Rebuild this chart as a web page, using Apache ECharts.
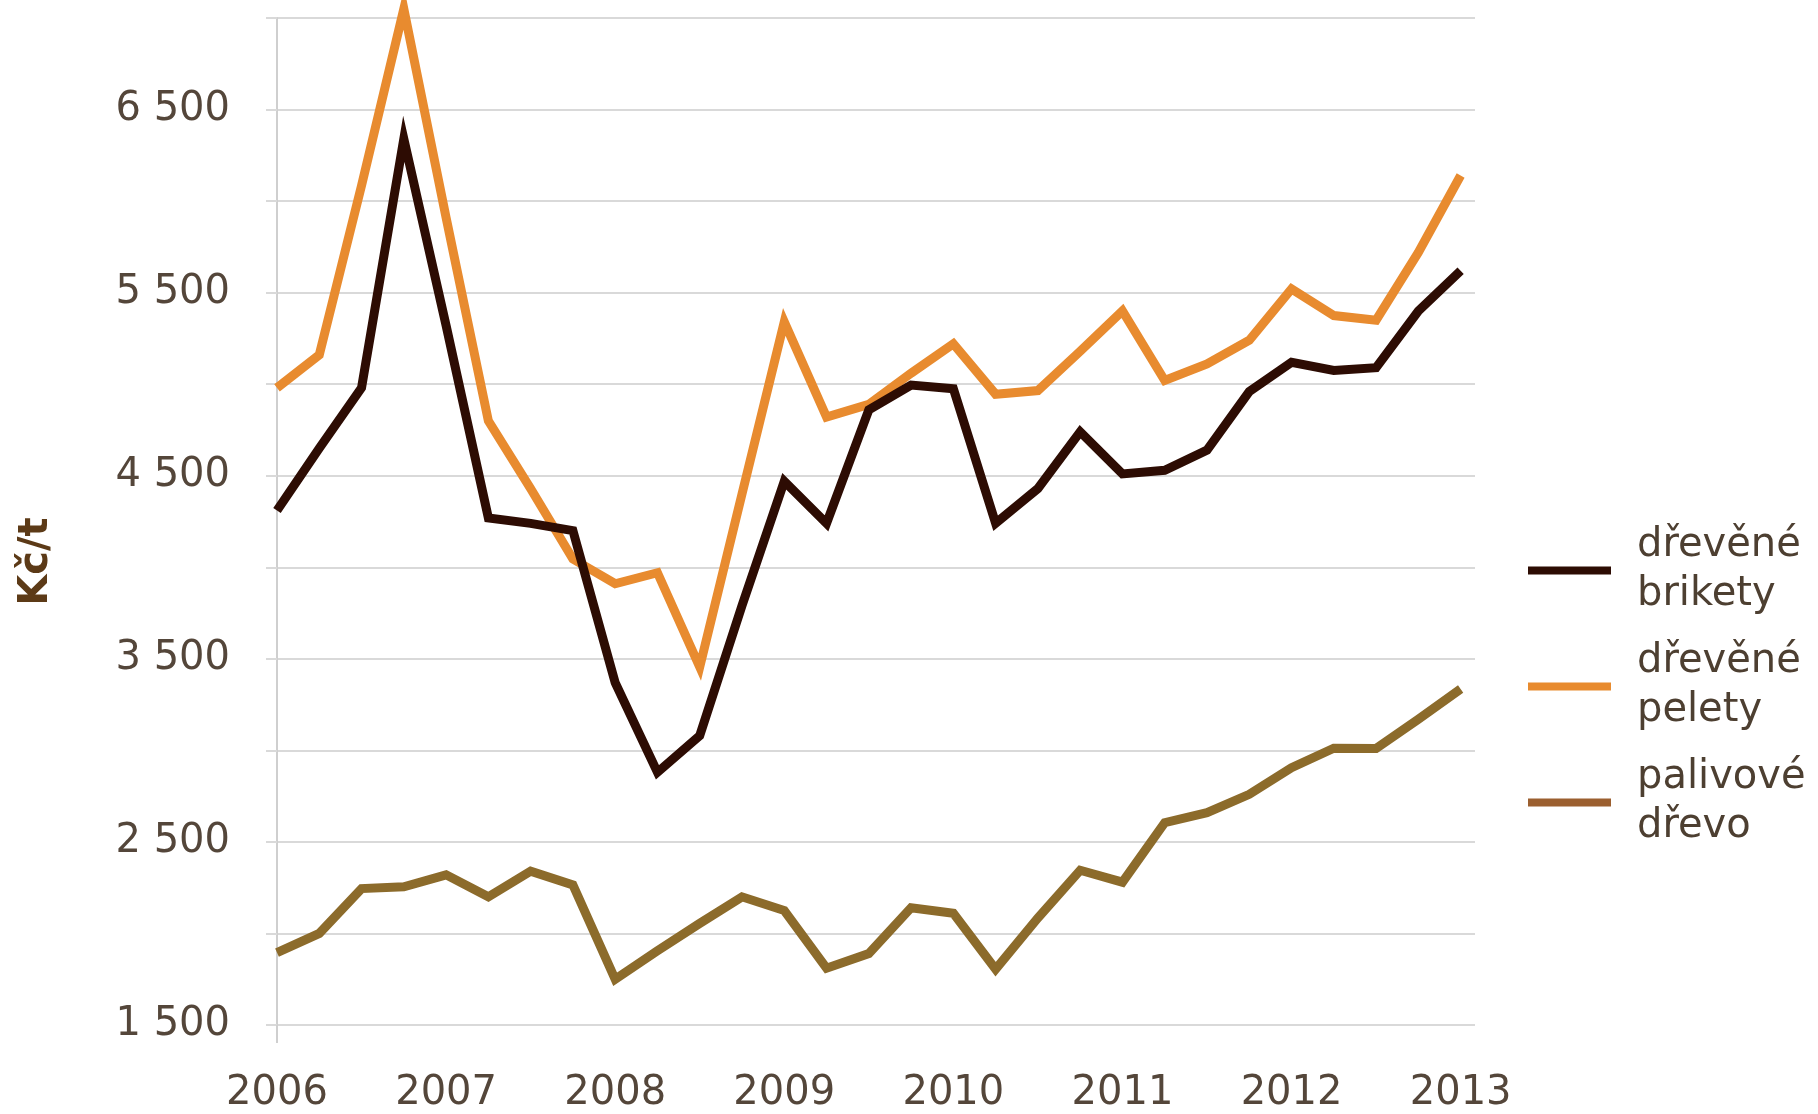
<!DOCTYPE html>
<html lang="cs">
<head>
<meta charset="utf-8">
<title>Ceny dřevěných paliv</title>
<script src="https://cdn.jsdelivr.net/npm/echarts@6/dist/echarts.min.js"></script>
<style>
  html, body { margin: 0; padding: 0; background: #fff; }
  #chart { width: 1818px; height: 1114px; }
</style>
</head>
<body>
<div id="chart"></div>
<script>
// čtvrtletní průměrné ceny paliv (Kč/t), 2006 Q1 – 2013 Q1
const quarters = [
  '2006 Q1', '2006 Q2', '2006 Q3', '2006 Q4',
  '2007 Q1', '2007 Q2', '2007 Q3', '2007 Q4',
  '2008 Q1', '2008 Q2', '2008 Q3', '2008 Q4',
  '2009 Q1', '2009 Q2', '2009 Q3', '2009 Q4',
  '2010 Q1', '2010 Q2', '2010 Q3', '2010 Q4',
  '2011 Q1', '2011 Q2', '2011 Q3', '2011 Q4',
  '2012 Q1', '2012 Q2', '2012 Q3', '2012 Q4',
  '2013 Q1'
]

// popisky os
const yearLabels = ['2006', '2007', '2008', '2009', '2010', '2011', '2012', '2013']
const yearTicks = [0, 4, 8, 12, 16, 20, 24, 28]
const yTickValues = [1500, 2500, 3500, 4500, 5500, 6500]
const yTickLabels = ['1 500', '2 500', '3 500', '4 500', '5 500', '6 500']

// hodnoty řad
const brikety = [
  4310, 4650, 4980, 6340, 5320, 4270, 4240, 4200, 3370, 2880,
  3080, 3790, 4470, 4240, 4860, 4995, 4975, 4240, 4430, 4740,
  4510, 4530, 4640, 4960, 5120, 5075, 5090, 5400, 5620
]
const pelety = [
  4980, 5160, 6085, 7050, 5910, 4800, 4430, 4045, 3910, 3970,
  3455, 4400, 5340, 4820, 4890, 5060, 5220, 4945, 4965, 5180,
  5400, 5020, 5110, 5240, 5520, 5375, 5350, 5720, 6140
]
const palivove = [
  1895, 2000, 2245, 2255, 2320, 2200, 2340, 2265, 1750, 1905,
  2055, 2200, 2125, 1810, 1890, 2140, 2110, 1805, 2085, 2345,
  2280, 2605, 2660, 2760, 2905, 3012, 3010, 3170, 3335
]

const font = 'DejaVu Sans'
const gridColor = '#d9d9d9'
const labelColor = '#54463a'

const chart = echarts.init(document.getElementById('chart'))

const toPoints = arr => arr.map((v, i) => [i, v])

const option = {
  animation: false,
  backgroundColor: '#ffffff',
  grid: {
    left: 277,
    right: 343,
    top: 18,
    bottom: 87
  },
  legend: {
    orient: 'vertical',
    left: 1528,
    top: 497,
    padding: 0,
    icon: 'rect',
    itemWidth: 83,
    itemHeight: 8,
    itemGap: -31,
    selectedMode: false,
    formatter: name => name.replace(' ', '\n'),
    textStyle: {
      fontFamily: font,
      fontSize: 40,
      lineHeight: 49,
      color: '#4d3f31',
      padding: [49, 0, 0, 21]
    },
    data: [
      { name: 'dřevěné brikety' },
      { name: 'dřevěné pelety' },
      { name: 'palivové dřevo', itemStyle: { color: '#9b5f2f' } }
    ]
  },
  xAxis: {
    type: 'value',
    min: 0,
    max: 28.34,
    axisLine: { show: false },
    splitLine: { show: false },
    axisTick: {
      show: true,
      customValues: [0],
      length: 18,
      lineStyle: { color: '#cfcfcf', width: 2 }
    },
    axisLabel: {
      customValues: yearTicks,
      formatter: v => yearLabels[yearTicks.indexOf(v)],
      margin: 49,
      fontFamily: font,
      fontSize: 40,
      lineHeight: 40,
      color: labelColor
    }
  },
  yAxis: {
    type: 'value',
    min: 1500,
    max: 7000,
    interval: 500,
    name: 'Kč/t',
    nameLocation: 'middle',
    nameRotate: 90,
    nameGap: 220,
    nameTextStyle: {
      fontFamily: font,
      fontSize: 40,
      fontWeight: 'bold',
      color: '#5c3a17',
      padding: [0, 80, 0, 0]
    },
    axisLine: { show: true, lineStyle: { color: '#cfcfcf', width: 2 } },
    axisTick: { show: true, length: 11, lineStyle: { color: gridColor, width: 2 } },
    axisLabel: {
      customValues: yTickValues,
      formatter: v => yTickLabels[yTickValues.indexOf(v)],
      margin: 47,
      fontFamily: font,
      fontSize: 40,
      color: labelColor
    },
    splitLine: { lineStyle: { color: gridColor, width: 2 } }
  },
  series: [
    {
      name: 'dřevěné brikety',
      type: 'line',
      data: toPoints(brikety),
      color: '#2d0c03',
      showSymbol: false,
      clip: false,
      z: 4,
      lineStyle: { width: 9, join: 'miter' }
    },
    {
      name: 'dřevěné pelety',
      type: 'line',
      data: toPoints(pelety),
      color: '#e88b2f',
      showSymbol: false,
      clip: false,
      z: 3,
      lineStyle: { width: 9, join: 'miter' }
    },
    {
      name: 'palivové dřevo',
      type: 'line',
      data: toPoints(palivove),
      color: '#8c6b2b',
      showSymbol: false,
      clip: false,
      z: 2,
      lineStyle: { width: 9, join: 'miter' }
    }
  ]
}

chart.setOption(option)
</script>
</body>
</html>
